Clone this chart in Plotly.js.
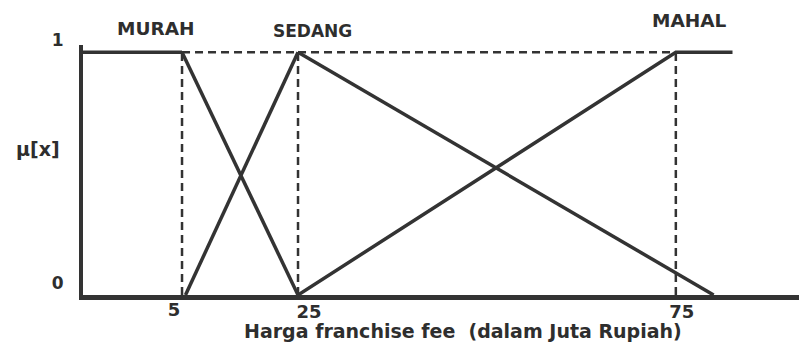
<!DOCTYPE html>
<html><head><meta charset="utf-8">
<script src="https://cdn.plot.ly/plotly-3.0.1.min.js"></script>
<style>html,body{margin:0;padding:0;background:#fff}#chart{width:799px;height:351px}</style>
</head><body><div id="chart"></div>
<script>
// ---- data (x = harga franchise fee in juta rupiah, y = membership μ[x]) ----
const murahX = [0, 5, 25];
const murahY = [1, 1, 0];
const sedangX = [5.6, 25, 80];
const sedangY = [0, 1, 0];
const mahalX = [25, 75, 82.5];
const mahalY = [0, 1, 1];
const setNames = ['MURAH', 'SEDANG', 'MAHAL'];
const setPeakX = [5, 25, 75];
const xTickVals = [5, 25, 75];
const xTickText = ['5', '25', '75'];
const yTickVals = [0, 1];
const yTickText = ['0', '1'];
const guideX = [5, 25, 75];
const guideTopX = [0, 75];
const guideTopY = 1;
const xTitle = 'Harga franchise fee  (dalam Juta Rupiah)';
const yTitle = 'μ[x]';

// ---- layout: the schematic x axis is drawn as three linear pieces ----
const segRanges = [[0, 5], [5, 25], [25, 91.3]];
const segDomains = [[0, 0.1383], [0.1383, 0.3003], [0.3003, 1]];
const segTickShift = [-8, 11, 6];
const segTickStandoff = [-6, -4, -4];
const labelShift = [[-27, 24], [14, 21], [14, 32]];
const labelSize = [18.5, 17, 18.5];
const axIds = ['x', 'x2', 'x3'];
const ink = '#333333';
const font = {family: 'DejaVu Sans', weight: 'bold', color: '#2e2e2e'};
const dash = '8px,5px';

function clip(xs, ys, lo, hi) {
  const px = [], py = [];
  for (let i = 0; i < xs.length - 1; i++) {
    const x0 = xs[i], x1 = xs[i + 1], y0 = ys[i], y1 = ys[i + 1];
    const sa = Math.max(lo, x0), sb = Math.min(hi, x1);
    if (sa >= sb) continue;
    const f = x => y0 + (y1 - y0) * (x - x0) / (x1 - x0);
    if (!px.length || px[px.length - 1] !== sa) {
      if (px.length) { px.push(null); py.push(null); }
      px.push(sa); py.push(f(sa));
    }
    px.push(sb); py.push(f(sb));
  }
  return {x: px, y: py};
}

const traces = [];
segRanges.forEach((r, s) => {
  const ax = axIds[s];
  const top = clip(guideTopX, [guideTopY, guideTopY], r[0], r[1]);
  if (top.x.length) traces.push({x: top.x, y: top.y, xaxis: ax, yaxis: 'y', mode: 'lines',
    line: {color: ink, width: 2.5, dash: dash}, hoverinfo: 'skip', showlegend: false});
  guideX.forEach(g => {
    if (g >= r[0] && g <= r[1]) traces.push({x: [g, g], y: [0, guideTopY], xaxis: ax, yaxis: 'y', mode: 'lines',
      line: {color: ink, width: 2.5, dash: dash}, hoverinfo: 'skip', showlegend: false});
  });
});
[[murahX, murahY, setNames[0]], [sedangX, sedangY, setNames[1]], [mahalX, mahalY, setNames[2]]].forEach(([xs, ys, nm]) => {
  segRanges.forEach((r, s) => {
    const c = clip(xs, ys, r[0], r[1]);
    if (c.x.length) traces.push({x: c.x, y: c.y, xaxis: axIds[s], yaxis: 'y', mode: 'lines', name: nm,
      line: {color: ink, width: 3.5}, showlegend: false});
  });
});

const layout = {
  width: 799, height: 351,
  margin: {l: 83, r: 0, t: 45, b: 56, pad: 0},
  paper_bgcolor: '#fff', plot_bgcolor: '#fff',
  showlegend: false,
  yaxis: {range: [0, 1.03], anchor: 'x', showline: true, linewidth: 4, linecolor: ink,
    showgrid: false, zeroline: false, ticks: '', ticklen: 0, tickvals: yTickVals, ticktext: yTickText,
    tickfont: Object.assign({size: 17}, font), ticklabelshift: -12, ticklabelstandoff: 12},
  annotations: []
};
segRanges.forEach((r, s) => {
  const key = s === 0 ? 'xaxis' : 'xaxis' + (s + 1);
  const tv = [], tt = [];
  xTickVals.forEach((v, i) => {
    if (v > r[0] && v <= r[1]) { tv.push(v); tt.push(xTickText[i]); }
  });
  layout[key] = {domain: segDomains[s], range: r, anchor: 'y', showline: true, linewidth: 5,
    linecolor: ink, showgrid: false, zeroline: false, ticks: '', ticklen: 0, tickvals: tv, ticktext: tt,
    tickfont: Object.assign({size: 18}, font), ticklabelshift: segTickShift[s],
    ticklabelstandoff: segTickStandoff[s]};
});
setNames.forEach((nm, i) => {
  const s = segRanges.findIndex(r => setPeakX[i] > r[0] && setPeakX[i] <= r[1]);
  layout.annotations.push({text: nm, xref: axIds[s], yref: 'y', x: setPeakX[i], y: guideTopY,
    xshift: labelShift[i][0], yshift: labelShift[i][1], showarrow: false,
    xanchor: 'center', yanchor: 'middle', font: Object.assign({size: labelSize[i]}, font)});
});
layout.annotations.push({text: yTitle, xref: 'paper', yref: 'y', x: 0, y: 0.6, xshift: -21,
  xanchor: 'right', yanchor: 'middle', showarrow: false, font: Object.assign({size: 19}, font)});
layout.annotations.push({text: xTitle, xref: 'paper', yref: 'paper', x: 0.531, y: 0, yshift: -36,
  xanchor: 'center', yanchor: 'middle', showarrow: false, font: Object.assign({size: 19}, font)});

Plotly.newPlot('chart', traces, layout, {staticPlot: true, displayModeBar: false});
</script>
</body></html>
